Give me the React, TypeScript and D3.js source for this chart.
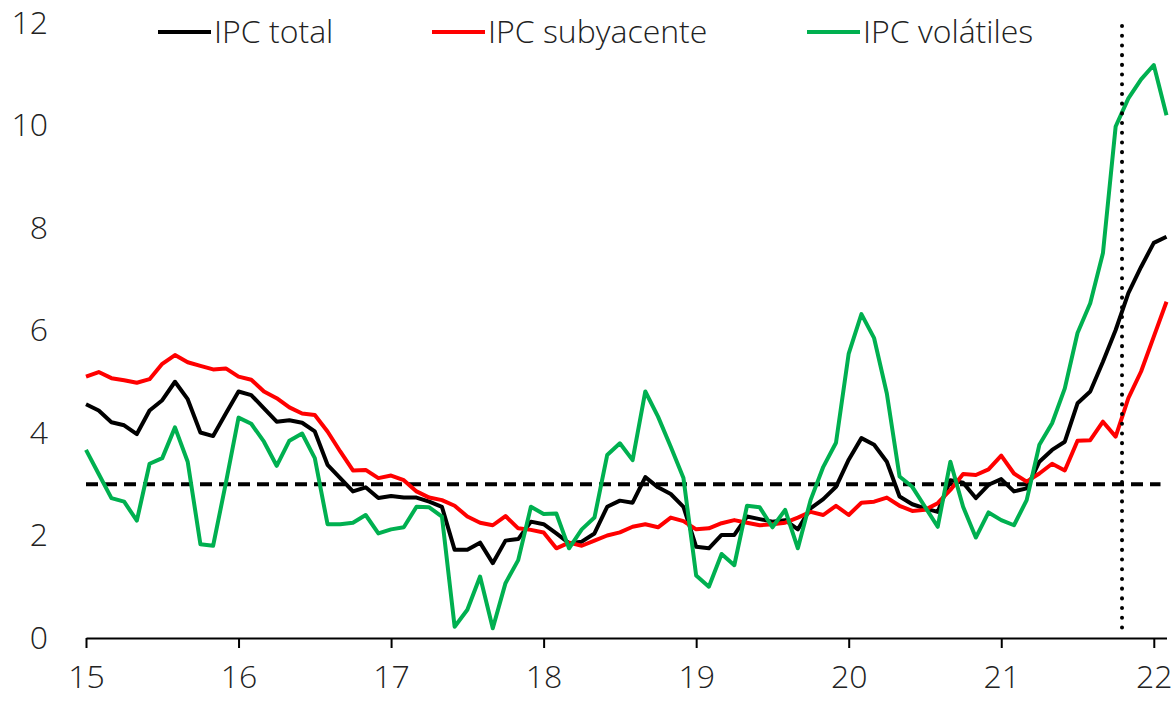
import React, { useEffect, useRef } from 'react';
import * as d3 from 'd3';

// monthly, Jan 2015 .. Feb 2022
const ipcTotal = [
  4.56, 4.44, 4.21, 4.15, 3.98, 4.44, 4.64, 5.0, 4.66, 4.01, 3.94, 4.38,
  4.81, 4.74, 4.48, 4.22, 4.25, 4.2, 4.03, 3.38, 3.12, 2.86, 2.94, 2.73,
  2.77, 2.74, 2.74, 2.66, 2.56, 1.72, 1.72, 1.86, 1.46, 1.9, 1.93, 2.27,
  2.22, 2.04, 1.85, 1.88, 2.04, 2.56, 2.68, 2.64, 3.14, 2.94, 2.81, 2.56,
  1.78, 1.75, 2.01, 2.01, 2.37, 2.32, 2.27, 2.3, 2.12, 2.53, 2.71, 2.95,
  3.48, 3.9, 3.77, 3.44, 2.76, 2.61, 2.53, 2.46, 3.08, 3.03, 2.73, 2.99,
  3.1, 2.86, 2.92, 3.44, 3.67, 3.83, 4.58, 4.81, 5.39, 6.01, 6.73, 7.24,
  7.71, 7.83,
];

const ipcSubyacente = [
  5.1, 5.19, 5.07, 5.03, 4.98, 5.05, 5.35, 5.52, 5.38, 5.31, 5.24, 5.26,
  5.1, 5.04, 4.81, 4.68, 4.5, 4.38, 4.35, 4.03, 3.64, 3.27, 3.28, 3.12,
  3.17, 3.08, 2.86, 2.74, 2.69, 2.58, 2.37, 2.25, 2.2, 2.38, 2.14, 2.11,
  2.06, 1.75, 1.86, 1.8, 1.9, 2.0, 2.06, 2.17, 2.22, 2.16, 2.35, 2.28,
  2.12, 2.14, 2.24, 2.3, 2.25, 2.2, 2.22, 2.25, 2.35, 2.46, 2.4, 2.58,
  2.4, 2.64, 2.66, 2.74, 2.58, 2.48, 2.5, 2.63, 2.89, 3.2, 3.18, 3.29,
  3.56, 3.21, 3.05, 3.21, 3.4, 3.27, 3.85, 3.86, 4.22, 3.93, 4.68, 5.2,
  5.88, 6.56,
];

const ipcVolatiles = [
  3.67, 3.2, 2.73, 2.66, 2.29, 3.4, 3.51, 4.11, 3.44, 1.83, 1.8, 3.02,
  4.3, 4.18, 3.83, 3.36, 3.85, 3.99, 3.51, 2.22, 2.22, 2.25, 2.4, 2.04,
  2.12, 2.16, 2.56, 2.55, 2.37, 0.22, 0.55, 1.2, 0.19, 1.07, 1.52, 2.56,
  2.42, 2.43, 1.75, 2.12, 2.35, 3.57, 3.8, 3.47, 4.81, 4.32, 3.73, 3.12,
  1.22, 1.0, 1.64, 1.42, 2.58, 2.55, 2.16, 2.5, 1.75, 2.69, 3.34, 3.81,
  5.55, 6.32, 5.85, 4.77, 3.15, 2.95, 2.56, 2.17, 3.44, 2.56, 1.96, 2.45,
  2.3, 2.2, 2.69, 3.77, 4.19, 4.87, 5.95, 6.53, 7.51, 9.98, 10.53, 10.9,
  11.18, 10.2,
];

const seriesNames = ['IPC total', 'IPC subyacente', 'IPC volátiles'];
const seriesColors = ['#000000', '#ff0000', '#00b050'];
const yearLabels = ['15', '16', '17', '18', '19', '20', '21', '22'];
const yTicks = [0, 2, 4, 6, 8, 10, 12];
const target = 3; // meta de inflación
const cutoffMonth = 81.5; // línea vertical punteada

export default function App() {
  const ref = useRef<SVGSVGElement>(null);

  useEffect(() => {
    const width = 1174;
    const height = 702;
    const margin = { top: 23, right: 7.5, bottom: 64, left: 86 };
    const font = "'Open Sans', sans-serif";
    const fontSize = '32px';
    const series = [ipcTotal, ipcSubyacente, ipcVolatiles];
    const n = ipcTotal.length;

    const svg = d3.select(ref.current);
    svg.selectAll('*').remove();

    const x = d3
      .scaleLinear()
      .domain([0, n - 1])
      .range([margin.left, width - margin.right]);
    const y = d3
      .scaleLinear()
      .domain([0, 12])
      .range([height - margin.bottom, margin.top]);

    // reference lines
    svg
      .append('line')
      .attr('x1', x(0))
      .attr('x2', x(n - 1) - 6)
      .attr('y1', y(target))
      .attr('y2', y(target))
      .attr('stroke', '#000')
      .attr('stroke-width', 4)
      .attr('stroke-dasharray', '12 7');

    const line = d3
      .line<number>()
      .x((d, i) => x(i))
      .y((d) => y(d));

    svg
      .append('g')
      .selectAll('path')
      .data(series)
      .join('path')
      .attr('fill', 'none')
      .attr('stroke', (d, i) => seriesColors[i])
      .attr('stroke-width', 4)
      .attr('stroke-linejoin', 'round')
      .attr('d', (d) => line(d));

    svg
      .append('line')
      .attr('x1', x(cutoffMonth))
      .attr('x2', x(cutoffMonth))
      .attr('y1', y(12) + 3)
      .attr('y2', y(0) - 3)
      .attr('stroke', '#000')
      .attr('stroke-width', 4)
      .attr('stroke-linecap', 'round')
      .attr('stroke-dasharray', '0.1 9.6');

    // x axis
    const xAxis = d3
      .axisBottom(x)
      .tickValues(yearLabels.map((_, i) => i * 12))
      .tickFormat((d, i) => yearLabels[i])
      .tickSize(10)
      .tickSizeOuter(0)
      .tickPadding(17);

    const gx = svg
      .append('g')
      .attr('transform', `translate(0,${y(0)})`)
      .call(xAxis);
    gx.select('.domain').attr('stroke', '#000').attr('stroke-width', 2);
    gx.selectAll('.tick line').attr('stroke', '#000').attr('stroke-width', 2);
    gx.selectAll('.tick text')
      .attr('fill', '#222')
      .style('font-family', font)
      .style('font-size', fontSize)
      .style('font-weight', 300);

    // y axis (labels only)
    const gy = svg
      .append('g')
      .attr('transform', `translate(${margin.left},0)`)
      .call(d3.axisLeft(y).tickValues(yTicks).tickSize(0).tickPadding(38));
    gy.select('.domain').remove();
    gy.selectAll('.tick text')
      .attr('fill', '#222')
      .style('font-family', font)
      .style('font-size', fontSize)
      .style('font-weight', 300);

    // legend
    const legendX = [158, 432, 807];
    const legend = svg
      .append('g')
      .selectAll('g')
      .data(seriesNames)
      .join('g')
      .attr('transform', (d, i) => `translate(${legendX[i]},32)`);
    legend
      .append('line')
      .attr('x1', 0)
      .attr('x2', 53)
      .attr('stroke', (d, i) => seriesColors[i])
      .attr('stroke-width', 4);
    legend
      .append('text')
      .attr('x', 56)
      .attr('dy', '0.35em')
      .attr('fill', '#222')
      .style('font-family', font)
      .style('font-size', fontSize)
      .style('font-weight', 300)
      .text((d) => d);
  }, []);

  return (
    <svg
      ref={ref}
      width={1174}
      height={702}
      style={{ position: 'absolute', left: 0, top: 0, background: '#fff' }}
    />
  );
}
